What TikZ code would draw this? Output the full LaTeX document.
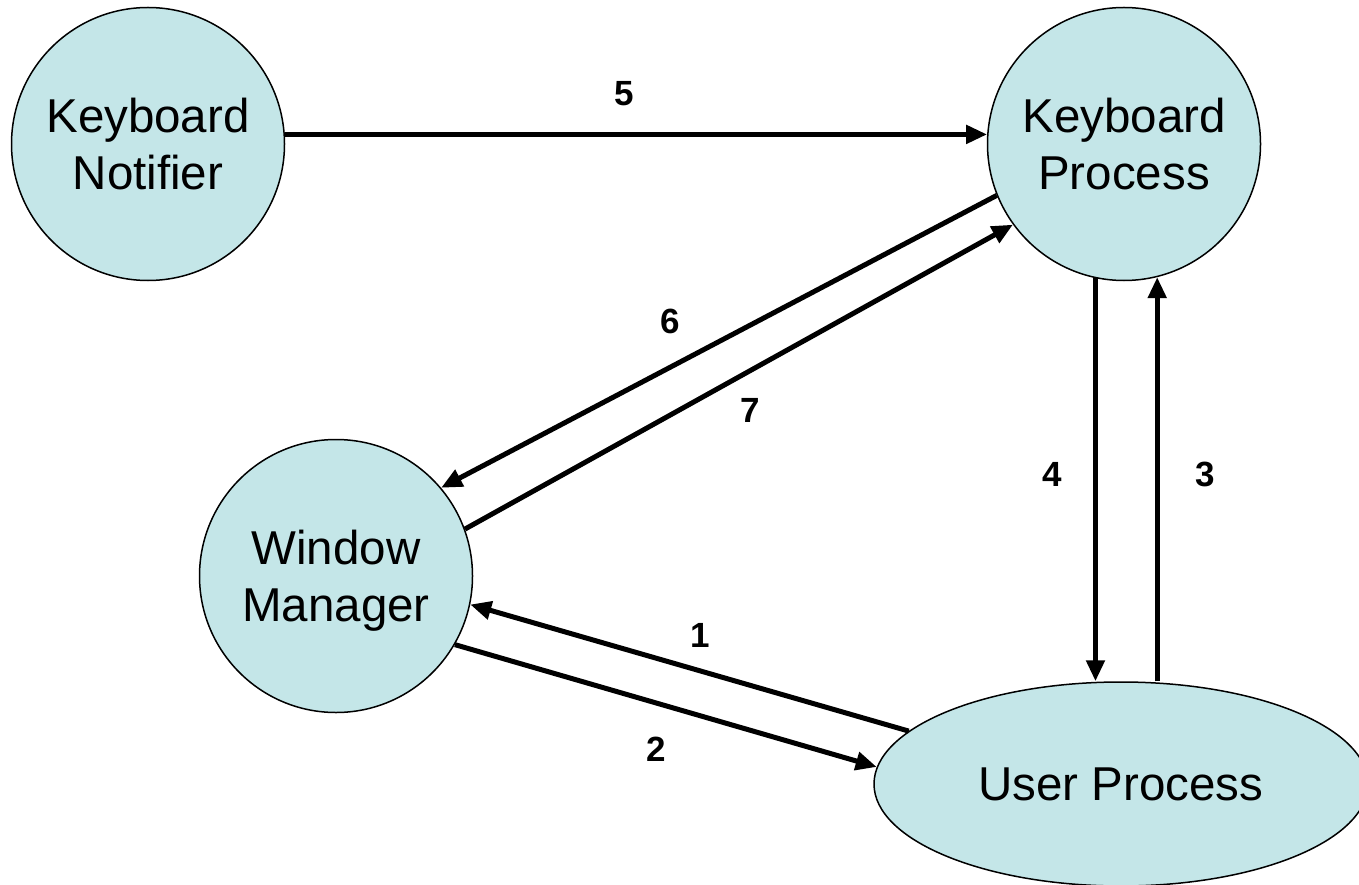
\documentclass[tikz,border=0pt]{standalone}
\usepackage{fontspec}
\setmainfont{Liberation Sans}
\usetikzlibrary{arrows.meta,shapes.geometric}
\definecolor{bubble}{RGB}{196,230,232}
% a line whose descenders do not push the text block upward
\newcommand{\flatline}[1]{\raisebox{0pt}[\height][0pt]{#1}}
\begin{document}
\begin{tikzpicture}[x=1pt,y=-1pt,
  proc/.style={draw=black, line width=1.5pt, fill=bubble, inner sep=0pt,
    align=center, font=\fontsize{47.5}{57}\selectfont},
  round/.style={proc, circle, minimum size=273pt},
  flow/.style={line width=5pt, -{Triangle[length=21pt,width=18pt]}},
  num/.style={font=\fontsize{35}{40}\selectfont\bfseries, inner sep=0pt}]
\useasboundingbox (0,0) rectangle (1359,885);
\clip (0,0) rectangle (1359,885);

% processes
\node[round] (kn) at (148,144) {Keyboard\\Notifier};
\node[round] (kp) at (1124,144) {Keyboard\\Process};
\node[round] (wm) at (336,576) {Window\\\flatline{Manager}};
\node[proc, ellipse, minimum width=494pt, minimum height=204pt] (up) at (1121,784) {User Process};

% messages
\draw[flow] (kn.4) -- (kp.176);
\draw[flow] (kp.202) -- (wm.40);
\draw[flow] (wm.20) -- (kp.216);
\draw[flow] (kp.258) -- (kp.258 |- up.north);
\draw[flow] (kp.284 |- up.north) -- (kp.284);
\draw[flow] (up.166) -- (wm.348);
\draw[flow] (wm.330) -- (up.176);

% message numbers
\node[num] (n5) at (624,94) {5};
\node[num] (n6) at (670,321) {6};
\node[num] (n7) at (750,410) {7};
\node[num] (n4) at (1052,474) {4};
\node[num] (n3) at (1205,474) {3};
\node[num] (n1) at (700,635) {1};
\node[num] (n2) at (656,749) {2};
\end{tikzpicture}
\end{document}
